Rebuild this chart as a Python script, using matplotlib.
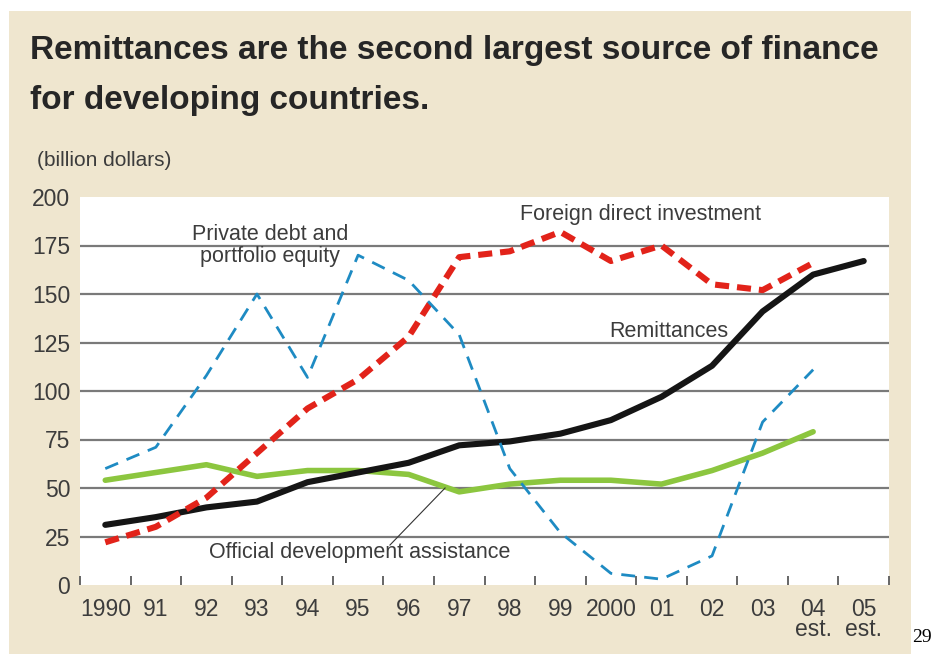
import matplotlib
matplotlib.use("Agg")
import matplotlib.pyplot as plt
from matplotlib.patches import Rectangle

# =========================
# データ (billion dollars)
# =========================
years = ["1990", "91", "92", "93", "94", "95", "96", "97", "98", "99",
         "2000", "01", "02", "03", "04\nest.", "05\nest."]
remittances = [31, 35, 40, 43, 53, 58, 63, 72, 74, 78, 85, 97, 113, 141, 160, 167]
fdi = [22, 30, 45, 68, 91, 106, 128, 169, 172, 182, 167, 175, 155, 152, 166]
private_debt = [60, 71, 108, 150, 107, 170, 157, 129, 60, 27, 6, 3, 15, 84, 111]
oda = [54, 58, 62, 56, 59, 59, 57, 48, 52, 54, 54, 52, 59, 68, 79]

title_lines = ["Remittances are the second largest source of finance",
               "for developing countries."]
unit = "(billion dollars)"

BEIGE = "#EFE6CF"
TXT = "#3c3c3c"
SANS = ["Liberation Sans", "DejaVu Sans"]

W, H = 932, 655
fig = plt.figure(figsize=(W / 100, H / 100), dpi=100)
fig.patch.set_facecolor("white")

# 背景パネル
fig.patches.append(Rectangle((9 / W, 1 - 654 / H), (911 - 9) / W, (654 - 11) / H,
                             transform=fig.transFigure, facecolor=BEIGE,
                             edgecolor="none", zorder=-5))

for k, line in enumerate(title_lines):
    fig.text(30 / W, 1 - (59 + 50 * k) / H, line, fontsize=24, fontweight="bold",
             family=SANS, color="#262626", ha="left", va="baseline")
fig.text(37 / W, 1 - 160 / H, unit, fontsize=15, family=SANS, color=TXT,
         ha="left", va="center")
fig.text(912 / W, 1 - 638 / H, "29", fontsize=14,
         family=["Liberation Serif", "DejaVu Serif"], color="black",
         ha="left", va="center")

ax = fig.add_axes([80 / W, 1 - 585 / H, 809 / W, 388 / H], zorder=2)
ax.set_facecolor("white")
for s in ax.spines.values():
    s.set_visible(False)

x = list(range(len(years)))
ax.set_xlim(-0.5, len(years) - 0.5)
ax.set_ylim(0, 200)

for v in [25, 50, 75, 100, 125, 150, 175]:
    ax.axhline(v, color="#7a7a7a", lw=1.6, zorder=1)

ax.plot(x[:len(oda)], oda, color="#8CC63F", lw=4.0, solid_capstyle="round", zorder=3)
ax.plot(x, remittances, color="#151515", lw=4.4, solid_capstyle="round", zorder=4)
ax.plot(x[:len(fdi)], fdi, color="#E2231A", lw=4.4, ls=(0, (2.3, 1.3)), zorder=5)
ax.plot(x[:len(private_debt)], private_debt, color="#1E8BC3", lw=2.0,
        ls=(0, (5.0, 3.3)), zorder=6)

# 軸
ax.set_xticks([i - 0.5 for i in range(len(years) + 1)])
ax.set_xticklabels([])
ax.set_xticks(x, minor=True)
ax.set_xticklabels(years, minor=True, fontsize=16.5, family=SANS, color=TXT,
                   linespacing=0.85, va="top")
ax.tick_params(axis="x", which="major", direction="in", length=6.5, width=1.4,
               color="#666666")
ax.tick_params(axis="x", which="minor", length=0, pad=9)
ax.set_yticks([0, 25, 50, 75, 100, 125, 150, 175, 200])
ax.tick_params(axis="y", length=0, pad=7, labelsize=16.5, labelcolor=TXT)
for lab in ax.get_yticklabels():
    lab.set_family(SANS)

# 注記
ax.text(3.26, 175, "Private debt and\nportfolio equity", fontsize=15.5, family=SANS,
        color=TXT, ha="center", va="center", linespacing=1.05, zorder=7)
ax.text(10.58, 191, "Foreign direct investment", fontsize=15.5, family=SANS,
        color=TXT, ha="center", va="center", zorder=7)
ax.text(11.15, 130.5, "Remittances", fontsize=15.5, family=SANS,
        color=TXT, ha="center", va="center", zorder=7)
ax.text(5.04, 16.5, "Official development assistance", fontsize=15.5, family=SANS,
        color=TXT, ha="center", va="center", zorder=7)
ax.plot([5.63, 6.72], [20.6, 50.0], color="#333333", lw=0.8, zorder=7)

fig.savefig("out.png", dpi=100, facecolor="white")
